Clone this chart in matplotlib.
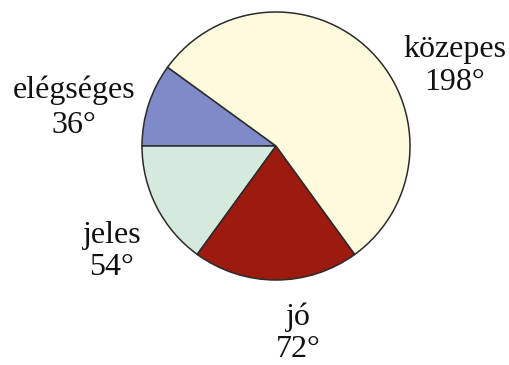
import matplotlib
matplotlib.use("Agg")
import matplotlib.pyplot as plt

# Grade distribution shown as pie slice angles (degrees)
categories = ["elégséges", "jeles", "jó", "közepes"]
degrees = [36, 54, 72, 198]
colors = ["#7f8bc9", "#d5e9dc", "#9c1a0e", "#fefade"]

W, H = 510, 365
fig = plt.figure(figsize=(W / 100, H / 100), dpi=100)
ax = fig.add_axes([0, 0, 1, 1])

cx, cy, r = 276, H - 146, 134
ax.pie(degrees, colors=colors, startangle=144, counterclock=True,
       center=(cx, cy), radius=r, frame=True,
       wedgeprops=dict(edgecolor="#2b2b2b", linewidth=1.1))
ax.set_xlim(0, W)
ax.set_ylim(0, H)
ax.set_aspect("equal")
ax.axis("off")

# label anchors: x centre, baseline of name, baseline of value (pixels from top)
label_pos = {
    "elégséges": (74, 98, 133),
    "jeles": (112, 243, 275),
    "jó": (298, 325, 357),
    "közepes": (455, 57, 90),
}
fs = 23
for cat, deg in zip(categories, degrees):
    x, y1, y2 = label_pos[cat]
    ax.text(x, H - y1, cat, ha="center", va="baseline", fontsize=fs,
            family="Liberation Serif", color="#111111")
    ax.text(x, H - y2, f"{deg}°", ha="center", va="baseline", fontsize=fs,
            family="Liberation Serif", color="#111111")

fig.savefig("out.png", dpi=100)
